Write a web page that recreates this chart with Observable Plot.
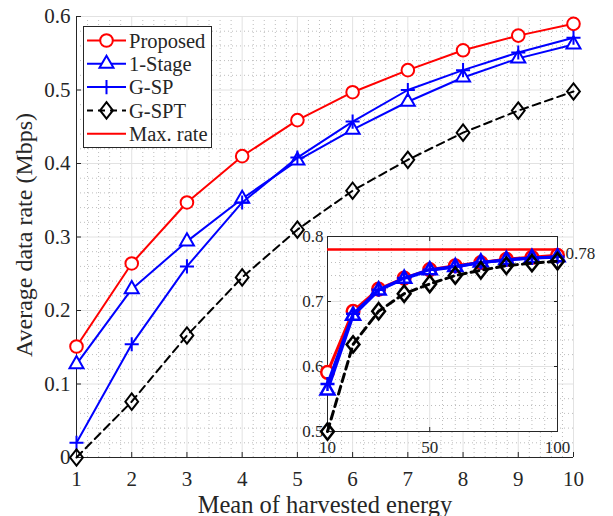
<!DOCTYPE html>
<html><head><meta charset="utf-8">
<script src="https://cdn.jsdelivr.net/npm/d3@7"></script>
<script src="https://cdn.jsdelivr.net/npm/@observablehq/plot@0.6"></script>
<style>
body{margin:0;background:#fff;}
#wrap{position:relative;width:613px;height:516px;overflow:hidden;}
#wrap svg{position:absolute;}
</style></head><body><div id="wrap"></div>
<script>
// ---- data ----
const energy = [1,2,3,4,5,6,7,8,9,10];
const proposed = [0.151,0.264,0.347,0.410,0.459,0.497,0.527,0.554,0.574,0.590];
const oneStage = [0.127,0.229,0.294,0.352,0.404,0.446,0.484,0.517,0.543,0.562];
const gSP      = [0.020,0.154,0.260,0.347,0.408,0.457,0.500,0.527,0.551,0.571];
const gSPT     = [0.000,0.076,0.166,0.245,0.310,0.363,0.405,0.442,0.472,0.498];

const insetEnergy   = [10,20,30,40,50,60,70,80,90,100];
const insetProposed = [0.591,0.685,0.719,0.736,0.749,0.755,0.760,0.765,0.768,0.771];
const insetOneStage = [0.563,0.678,0.717,0.735,0.748,0.753,0.760,0.764,0.767,0.768];
const insetGSP      = [0.573,0.681,0.718,0.736,0.749,0.754,0.760,0.764,0.767,0.769];
const insetGSPT     = [0.500,0.634,0.685,0.712,0.727,0.740,0.748,0.755,0.759,0.762];
const maxRate = 0.78;

const seriesNames  = ["Proposed","1-Stage","G-SP","G-SPT"];
const legendNames  = ["Proposed","1-Stage","G-SP","G-SPT","Max. rate"];
const seriesColors = ["#ff0000","#0000ff","#0000ff","#000000"];
const maxRateColor = "#ff0000";

const xTicks = [1,2,3,4,5,6,7,8,9,10];
const yTicks = [0,0.1,0.2,0.3,0.4,0.5,0.6];
const insetXTicks = [10,50,100];
const insetYTicks = [0.5,0.6,0.7,0.8];

const xLabel = "Mean of harvested energy";
const yLabel = "Average data rate (Mbps)";

// ---- styling helpers ----
const FONT = "Liberation Serif";
const INK = "#262626";
const tallDiamond = {draw(ctx, size){ const r = Math.sqrt(size/Math.PI); ctx.moveTo(0,-r*1.28); ctx.lineTo(r,0); ctx.lineTo(0,r*1.28); ctx.lineTo(-r,0); ctx.closePath(); }};
const symbols = [d3.symbolCircle, d3.symbolTriangle, d3.symbolPlus, tallDiamond];
const symR = [6.3, 5.2, 4.6, 6.4];
const fills = ["white","white","none","none"];
const dashes = [null,null,null,"8,5"];

const mainVals = [proposed, oneStage, gSP, gSPT];
const insetVals = [insetProposed, insetOneStage, insetGSP, insetGSPT];

function rows(xs, ys){ return xs.map((x,i)=>({x, y: ys[i]})); }

const wrap = document.getElementById("wrap");

// ---- main plot ----
const xMinor = d3.range(1, 10.001, 0.2).filter(v => Math.abs(v - Math.round(v)) > 1e-6);
const yMinor = d3.range(0, 0.6001, 0.02).filter(v => Math.abs(v*10 - Math.round(v*10)) > 1e-6);

const mainMarks = [
  Plot.ruleX(xMinor, {stroke:"#bdbdbd", strokeDasharray:"1,3"}),
  Plot.ruleY(yMinor, {stroke:"#bdbdbd", strokeDasharray:"1,3"}),
  Plot.ruleX(xTicks, {stroke:"#e2e2e2"}),
  Plot.ruleY(yTicks, {stroke:"#e2e2e2"}),
  Plot.ruleX([1], {stroke:INK}),
  Plot.ruleY([0], {stroke:INK}),
  Plot.axisX(xTicks, {tickSize:-5, tickPadding:19, tickFormat:d=>String(d), label:null, stroke:INK, fill:INK, fontSize:21, fontFamily:FONT}),
  Plot.axisY(yTicks, {tickSize:-5, tickPadding:11, tickFormat:d=>String(d), label:null, stroke:INK, fill:INK, fontSize:21, fontFamily:FONT}),
  Plot.text([xLabel], {frameAnchor:"bottom", textAnchor:"middle", lineAnchor:"bottom", dy:55, text:d=>d, fontSize:24.5, fontFamily:FONT, fill:INK}),
  Plot.text([yLabel], {frameAnchor:"left", textAnchor:"middle", lineAnchor:"middle", dx:-52, dy:-2, rotate:-90, text:d=>d, fontSize:24, fontFamily:FONT, fill:INK})
];
mainVals.forEach((vals, i) => {
  const data = rows(energy, vals);
  mainMarks.push(Plot.line(data, {x:"x", y:"y", stroke:seriesColors[i], strokeWidth:2, strokeDasharray:dashes[i]}));
  mainMarks.push(Plot.dot(data, {x:"x", y:"y", stroke:seriesColors[i], fill:fills[i], strokeWidth:2, symbol:()=>symbols[i], r:symR[i]}));
});

const main = Plot.plot({
  width:613, height:516,
  marginLeft:76, marginRight:40, marginTop:16, marginBottom:59,
  x:{domain:[1,10]}, y:{domain:[0,0.6]},
  symbol:{type:"identity"},
  style:{fontFamily:FONT, fontSize:"21px", color:INK, background:"transparent", overflow:"visible"},
  marks: mainMarks
});
main.style.left = "0px"; main.style.top = "0px";
wrap.appendChild(main);

// ---- inset ----
const ixMinor = d3.range(10, 100.001, 5).filter(v => !insetXTicks.includes(v));
const iyMinor = d3.range(0.5, 0.8001, 0.02).filter(v => Math.abs(v*10 - Math.round(v*10)) > 1e-6);
const insetMarks = [
  Plot.frame({fill:"white"}),
  Plot.ruleX(ixMinor, {stroke:"#bdbdbd", strokeDasharray:"1,3"}),
  Plot.ruleY(iyMinor, {stroke:"#bdbdbd", strokeDasharray:"1,3"}),
  Plot.ruleX(insetXTicks, {stroke:"#e2e2e2"}),
  Plot.ruleY(insetYTicks, {stroke:"#e2e2e2"}),
  Plot.frame({stroke:INK}),
  Plot.axisX(insetXTicks, {anchor:"bottom", tickSize:-4, tickPadding:13, tickFormat:d=>String(d), label:null, stroke:INK, fill:INK, fontFamily:FONT}),
  Plot.axisX(insetXTicks, {anchor:"top", tickSize:-4, tickFormat:()=>"", label:null, stroke:INK}),
  Plot.axisY(insetYTicks, {anchor:"left", tickSize:-4, tickPadding:8, tickFormat:d=>String(d), label:null, stroke:INK, fill:INK, fontFamily:FONT}),
  Plot.axisY(insetYTicks, {anchor:"right", tickSize:-4, tickFormat:()=>"", label:null, stroke:INK}),
  Plot.ruleY([maxRate], {x1:10, x2:100, stroke:maxRateColor, strokeWidth:2.5}),
  Plot.text([maxRate], {x:100, y:d=>d, text:d=>String(d), textAnchor:"start", dx:8, dy:4, fill:INK, fontFamily:FONT})
];
insetVals.forEach((vals, i) => {
  const data = rows(insetEnergy, vals);
  insetMarks.push(Plot.line(data, {x:"x", y:"y", stroke:seriesColors[i], strokeWidth:3, strokeDasharray:dashes[i]}));
  insetMarks.push(Plot.dot(data, {x:"x", y:"y", stroke:seriesColors[i], fill:fills[i], strokeWidth:2.5, symbol:()=>symbols[i], r:symR[i]}));
});
const inset = Plot.plot({
  width:320, height:235,
  marginLeft:40, marginRight:50, marginTop:10, marginBottom:30,
  x:{domain:[10,100]}, y:{domain:[0.5,0.8]},
  symbol:{type:"identity"},
  style:{fontFamily:FONT, fontSize:"17px", color:INK, background:"transparent", overflow:"visible"},
  marks: insetMarks
});
inset.style.left = "287px"; inset.style.top = "226px";
wrap.appendChild(inset);

// ---- legend ----
const leg = d3.create("svg").attr("width",613).attr("height",516).style("left","0px").style("top","0px")
  .style("font-family", FONT).style("font-size","20.5px");
leg.append("rect").attr("x",83.5).attr("y",26.5).attr("width",128).attr("height",121)
  .attr("fill","white").attr("stroke",INK).attr("stroke-width",1);
legendNames.forEach((name, i) => {
  const y = 40.5 + i*23.3;
  const isSeries = i < seriesNames.length;
  const color = isSeries ? seriesColors[i] : maxRateColor;
  leg.append("line").attr("x1",87).attr("x2",126).attr("y1",y).attr("y2",y)
    .attr("stroke",color).attr("stroke-width",2)
    .attr("stroke-dasharray", isSeries && dashes[i] ? "7,5" : null)
    .attr("stroke-dashoffset", isSeries && dashes[i] ? 1 : null);
  if (isSeries) {
    leg.append("path").attr("transform",`translate(106.5,${y})`)
      .attr("d", d3.symbol(symbols[i], Math.PI*symR[i]*symR[i])())
      .attr("fill", fills[i]).attr("stroke", color).attr("stroke-width",2);
  }
  leg.append("text").attr("x",129).attr("y",y).attr("dy","0.35em").attr("fill",INK).text(name);
});
wrap.appendChild(leg.node());
</script></body></html>
